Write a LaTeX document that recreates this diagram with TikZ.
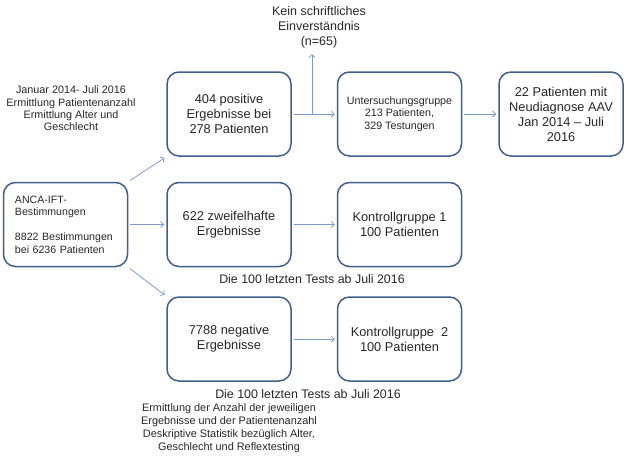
\documentclass[tikz,border=0pt]{standalone}
\usepackage{fontspec}
\setmainfont{Liberation Sans}
\usetikzlibrary{arrows.meta,positioning,calc}
\definecolor{boxblue}{HTML}{3E5F8E}
\definecolor{pilblue}{HTML}{7D9DCC}
\definecolor{schrift}{HTML}{262626}
\tikzset{
    %Define standard arrow tip
    >={Straight Barb[length=3pt,width=6pt]},
    %Define style for boxes
    kasten/.style={
           rectangle,
           rounded corners=12pt,
           draw=boxblue, line width=1.5pt,
           minimum width=124pt,
           minimum height=84pt,
           inner sep=0pt,
           text=schrift,
           align=center},
    % Define style for free text
    notiz/.style={
           align=center,
           text=schrift,
           inner sep=0pt},
    % Define arrow style
    pil/.style={
           ->,
           draw=pilblue,
           line width=0.8pt,
           shorten <=2pt,
           shorten >=2pt,}
}

\begin{document}
\begin{tikzpicture}[x=1pt,y=-1pt]
     \useasboundingbox (0,0) rectangle (627,469);
     \node[kasten, align=left, text width=101pt,
       font=\fontsize{10.6}{12.5}\selectfont] (anca) at (65.5,224.5)
       {ANCA-IFT-\\Bestimmungen\\[12.5pt]8822 Bestimmungen\\bei 6236 Patienten};
     \node[kasten, right=38pt of anca, font=\fontsize{12.8}{15}\selectfont] (zweifel)
       {622 zweifelhafte\\Ergebnisse};
     \node[kasten, above=25pt of zweifel, font=\fontsize{12.8}{15}\selectfont] (positiv)
       {404 positive\\Ergebnisse bei\\278 Patienten};
     \node[kasten, below=29pt of zweifel, font=\fontsize{12.8}{15}\selectfont] (negativ)
       {7788 negative\\Ergebnisse};
     \node[kasten, right=45pt of positiv, font=\fontsize{10.7}{12.5}\selectfont] (unters)
       {Untersuchungsgruppe\\213 Patienten,\\329 Testungen};
     \node[kasten, right=36pt of unters, font=\fontsize{12.8}{15}\selectfont] (neudiag)
       {22 Patienten mit\\Neudiagnose AAV\\Jan 2014 – Juli\\2016};
     \node[kasten, right=45pt of zweifel, font=\fontsize{12.8}{15}\selectfont] (kontrolle1)
       {Kontrollgruppe 1\\100 Patienten};
     \node[kasten, right=45pt of negativ, font=\fontsize{12.8}{15}\selectfont] (kontrolle2)
       {Kontrollgruppe~ 2\\100 Patienten};
     % free texts
     \node[notiz, font=\fontsize{12.5}{15}\selectfont] (kein) at (319,27)
       {Kein schriftliches\\Einverständnis\\(n=65)};
     \node[notiz, font=\fontsize{10.8}{12.3}\selectfont] (zeitraum) at (71,108.5)
       {Januar 2014- Juli 2016\\Ermittlung Patientenanzahl\\Ermittlung Alter und\\Geschlecht};
     \node[notiz, font=\fontsize{12.4}{14}\selectfont] (tests1) at (312,279)
       {Die 100 letzten Tests ab Juli 2016};
     \node[notiz, font=\fontsize{12.4}{14}\selectfont] (tests2) at (308,394)
       {Die 100 letzten Tests ab Juli 2016};
     \node[notiz, font=\fontsize{10.9}{13}\selectfont] (auswertung) at (229,428)
       {Ermittlung der Anzahl der jeweiligen\\Ergebnisse und der Patientenanzahl\\Deskriptive Statistik bezüglich Alter,\\Geschlecht und Reflextesting};
     % arrows
     \coordinate (abzweig) at ($(positiv.east)!0.45!(unters.west)$);
     \draw[pil] (anca.north east) -- (positiv.south west);
     \draw[pil] (anca) -- (zweifel);
     \draw[pil] (anca.south east) -- (negativ.north west);
     \draw[pil] (positiv) -- (unters);
     \draw[pil, shorten <=0pt, shorten >=6pt] (abzweig) -- (abzweig |- kein.south);
     \draw[pil] (unters) -- (neudiag);
     \draw[pil] (zweifel) -- (kontrolle1);
     \draw[pil] (negativ) -- (kontrolle2);
\end{tikzpicture}
\end{document}
